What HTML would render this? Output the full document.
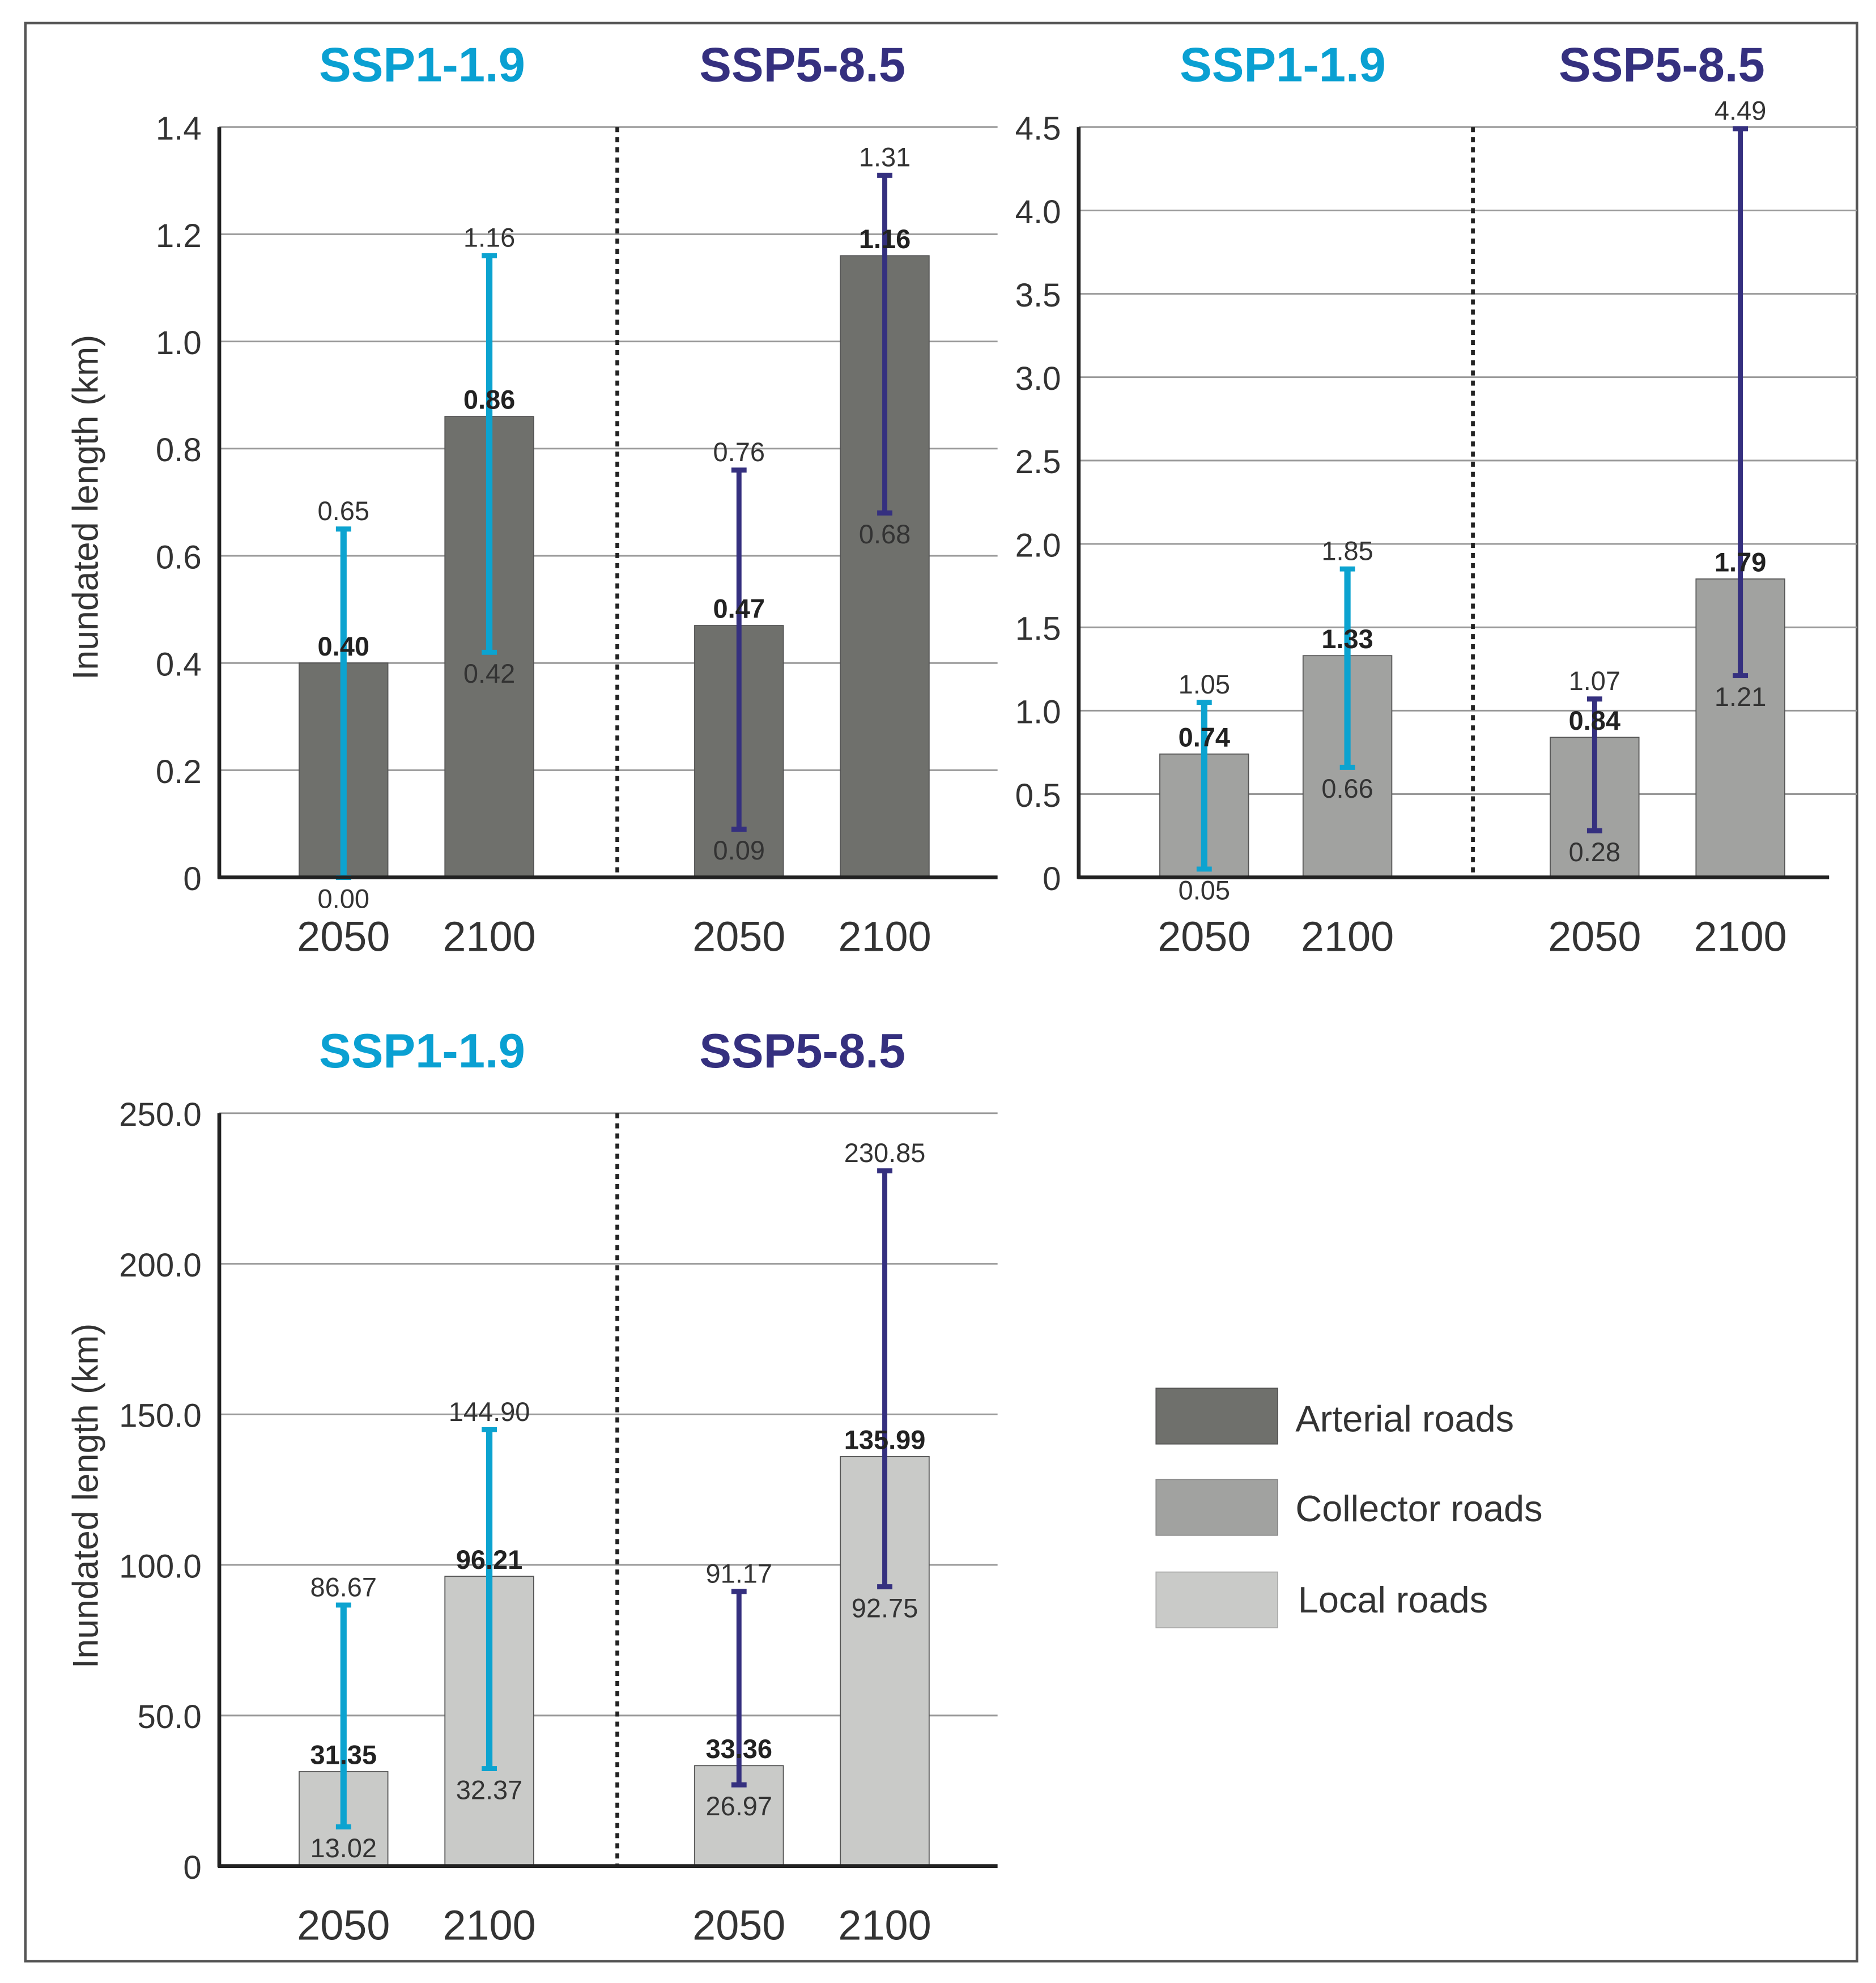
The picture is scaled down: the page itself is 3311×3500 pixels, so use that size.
<!DOCTYPE html>
<html><head><meta charset="utf-8"><style>
html,body{margin:0;padding:0;background:#fff}
svg{display:block}
text{font-family:"Liberation Sans",sans-serif}
</style></head><body>
<svg id="fig" width="3311" height="3500" viewBox="0 0 1480 1564">
<rect x="20" y="18" width="1445" height="1529" fill="#fff" stroke="#555" stroke-width="2"/>
<g id="legend">
<g><rect x="912" y="1095" width="96" height="44" fill="#6f706c" stroke="#555" stroke-width="0.8"/><text x="1022" y="1129" font-size="29" fill="#333">Arterial roads</text></g>
<g><rect x="912" y="1167" width="96" height="44" fill="#a1a2a0" stroke="#888" stroke-width="0.8"/><text x="1022" y="1200" font-size="29" fill="#333">Collector roads</text></g>
<g><rect x="912" y="1240" width="96" height="44" fill="#c9cac8" stroke="#aaa" stroke-width="0.8"/><text x="1024" y="1272" font-size="29" fill="#333">Local roads</text></g>
</g>
</svg>
<script>
// Panel A: Arterial roads
const catsA = ["2050","2100","2050","2100"];
const meanA = [0.40,0.86,0.47,1.16];
const lowA = [0.00,0.42,0.09,0.68];
const highA = [0.65,1.16,0.76,1.31];
const ticksA = [0,0.2,0.4,0.6,0.8,1.0,1.2,1.4];
const tickLabA = ["0","0.2","0.4","0.6","0.8","1.0","1.2","1.4"];
const meanLabA = ["0.40","0.86","0.47","1.16"];
const lowLabA = ["0.00","0.42","0.09","0.68"];
const highLabA = ["0.65","1.16","0.76","1.31"];
// Panel B: Collector roads
const catsB = ["2050","2100","2050","2100"];
const meanB = [0.74,1.33,0.84,1.79];
const lowB = [0.05,0.66,0.28,1.21];
const highB = [1.05,1.85,1.07,4.49];
const ticksB = [0,0.5,1.0,1.5,2.0,2.5,3.0,3.5,4.0,4.5];
const tickLabB = ["0","0.5","1.0","1.5","2.0","2.5","3.0","3.5","4.0","4.5"];
const meanLabB = ["0.74","1.33","0.84","1.79"];
const lowLabB = ["0.05","0.66","0.28","1.21"];
const highLabB = ["1.05","1.85","1.07","4.49"];
// Panel C: Local roads
const catsC = ["2050","2100","2050","2100"];
const meanC = [31.35,96.21,33.36,135.99];
const lowC = [13.02,32.37,26.97,92.75];
const highC = [86.67,144.90,91.17,230.85];
const ticksC = [0,50,100,150,200,250];
const tickLabC = ["0","50.0","100.0","150.0","200.0","250.0"];
const meanLabC = ["31.35","96.21","33.36","135.99"];
const lowLabC = ["13.02","32.37","26.97","92.75"];
const highLabC = ["86.67","144.90","91.17","230.85"];
const scenarios = ["SSP1-1.9","SSP5-8.5"];

const NS="http://www.w3.org/2000/svg";
const svg=document.getElementById('fig');
function mk(tag,attrs,parent){const e=document.createElementNS(NS,tag);for(const k in attrs)e.setAttribute(k,attrs[k]);(parent||svg).appendChild(e);return e;}
const CYAN="#0ca3d0", NAVY="#35307f";

function panel(cfg){
  const g=mk('g',{});
  
  
  const max=cfg.ticks[cfg.ticks.length-1];
  const y=v=>cfg.y0-(v/max)*(cfg.y0-cfg.yTop);
  const x=i=>cfg.x0+cfg.centers[i];
  cfg.ticks.forEach((t,i)=>{
    if(i>0){const l=mk('line',{x1:cfg.x0,x2:cfg.gridEnd,y1:y(t),y2:y(t),stroke:'#999','stroke-width':1.3},g);
      }
    const tx=mk('text',{x:cfg.x0-14,y:y(t)+10,'font-size':26,'text-anchor':'end',fill:'#333'},g);
    tx.textContent=cfg.tickLab[i];
    
  });
  const div=mk('line',{x1:cfg.x0+cfg.div,x2:cfg.x0+cfg.div,y1:cfg.yTop,y2:cfg.y0,stroke:'#222','stroke-width':3,'stroke-dasharray':'4 4'},g);
  
  cfg.mean.forEach((m,i)=>{
    const bx=x(i)-35;
    const b=mk('rect',{x:bx,y:y(m),width:70,height:cfg.y0-y(m),fill:cfg.color,stroke:'#555','stroke-width':0.8},g);
    
    const c=i<2?CYAN:NAVY;
    const e=mk('line',{x1:x(i),x2:x(i),y1:y(cfg.high[i]),y2:y(cfg.low[i]),stroke:c,'stroke-width':i<2?5:4},g);
    
    [cfg.high[i],cfg.low[i]].forEach(v=>{mk('line',{x1:x(i)-6,x2:x(i)+6,y1:y(v),y2:y(v),stroke:c,'stroke-width':4},g);});
    const mt=mk('text',{x:x(i),y:y(m)-6,'font-size':21,'font-weight':'bold','text-anchor':'middle',fill:'#222'},g);
    mt.textContent=cfg.meanLab[i];
    const ht=mk('text',{x:x(i),y:y(cfg.high[i])-7,'font-size':21,'text-anchor':'middle',fill:'#333'},g);
    ht.textContent=cfg.highLab[i];
    const lt=mk('text',{x:x(i),y:y(cfg.low[i])+24,'font-size':21,'text-anchor':'middle',fill:'#333'},g);
    lt.textContent=cfg.lowLab[i];
    const yl=mk('text',{x:x(i),y:cfg.y0+58,'font-size':33,'text-anchor':'middle',fill:'#333'},g);
    yl.textContent=cfg.cats[i];
  });
  const ax=mk('line',{x1:cfg.x0,x2:cfg.x0,y1:cfg.yTop,y2:cfg.y0+1,stroke:'#222','stroke-width':3},g);
  
  const bx=mk('line',{x1:cfg.x0-1,x2:cfg.axEnd,y1:cfg.y0,y2:cfg.y0,stroke:'#222','stroke-width':3},g);
  
  scenarios.forEach((s,k)=>{
    const t=mk('text',{x:cfg.x0+cfg.titleX[k],y:cfg.titleY,'font-size':38,'font-weight':'bold','text-anchor':'middle',fill:k?NAVY:'#0aa0d2'},g);
    t.textContent=s;
  });
  if(cfg.ytitle){
    const t=mk('text',{x:0,y:0,'font-size':28,'text-anchor':'middle',fill:'#333',transform:`translate(77,${cfg.ytitleY}) rotate(-90)`},g);
    t.textContent="Inundated length (km)";
  }
}
panel({name:'chart-arterial',short:'arterial',x0:173,y0:692,yTop:100,gridEnd:787,axEnd:787,centers:[98,213,410,525],div:314,titleX:[160,460],titleY:64,ticks:ticksA,tickLab:tickLabA,mean:meanA,low:lowA,high:highA,meanLab:meanLabA,lowLab:lowLabA,highLab:highLabA,cats:catsA,color:'#6f706c',ytitle:true,ytitleY:400});
panel({name:'chart-collector',short:'collector',x0:851,y0:692,yTop:100,gridEnd:1465,axEnd:1443,centers:[99,212,407,522],div:311,titleX:[161,460],titleY:64,ticks:ticksB,tickLab:tickLabB,mean:meanB,low:lowB,high:highB,meanLab:meanLabB,lowLab:lowLabB,highLab:highLabB,cats:catsB,color:'#a1a2a0',ytitle:false});
panel({name:'chart-local',short:'local',x0:173,y0:1472,yTop:878,gridEnd:787,axEnd:787,centers:[98,213,410,525],div:314,titleX:[160,460],titleY:842,ticks:ticksC,tickLab:tickLabC,mean:meanC,low:lowC,high:highC,meanLab:meanLabC,lowLab:lowLabC,highLab:highLabC,cats:catsC,color:'#c9cac8',ytitle:true,ytitleY:1180});
</script>
</body></html>
